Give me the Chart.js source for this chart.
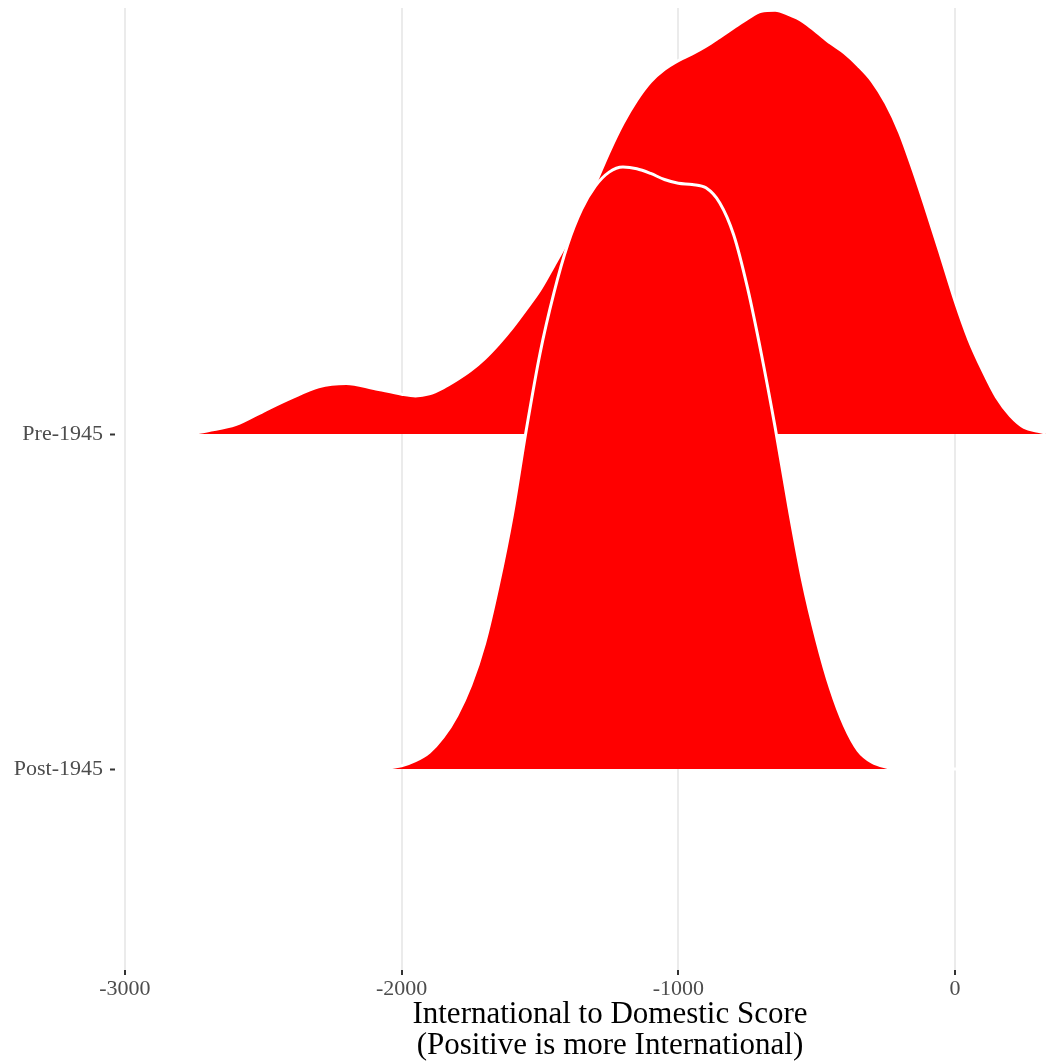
<!DOCTYPE html>
<html>
<head>
<meta charset="utf-8">
<script src="https://cdn.jsdelivr.net/npm/chart.js@4/dist/chart.umd.min.js"></script>
<style>
  html, body { margin: 0; padding: 0; background: #fff; }
  #wrap { width: 1046px; height: 1063px; position: relative; }
</style>
</head>
<body>
<div id="wrap"><canvas id="ridgeChart"></canvas></div>
<script>
// ===== Data =====
const groups = ['Post-1945', 'Pre-1945'];   // bottom ridge first
const baselines = [1, 2];                   // ridge positions on the y scale
const xTicks = [-3000, -2000, -1000, 0];
const xTitle = ['International to Domestic Score', '(Positive is more International)'];

const scoreX = [-2765, -2700, -2600, -2500, -2400, -2300, -2200, -2100,
  -2000, -1950, -1900, -1850, -1800, -1750, -1700, -1650, -1600, -1550,
  -1500, -1450, -1400, -1350, -1300, -1250, -1200, -1150, -1100, -1050,
  -1000, -950, -900, -850, -800, -750, -700, -650, -600, -550,
  -500, -450, -400, -350, -300, -250, -200, -150, -100, -50,
  0, 50, 100, 150, 200, 250, 300, 329];

// ridge heights (in units of the gap between ridges)
const preHeight = [0, 0.01, 0.028, 0.068, 0.107, 0.141, 0.151, 0.136,
  0.119, 0.114, 0.12, 0.138, 0.162, 0.19, 0.225, 0.268, 0.317, 0.372,
  0.43, 0.502, 0.576, 0.657, 0.747, 0.842, 0.927, 0.997, 1.052, 1.089,
  1.115, 1.135, 1.158, 1.185, 1.213, 1.24, 1.262, 1.265, 1.252, 1.232,
  1.2, 1.167, 1.138, 1.1, 1.054, 0.988, 0.9, 0.785, 0.66, 0.53,
  0.398, 0.282, 0.19, 0.11, 0.055, 0.02, 0.008, 0.003];

const postHeight = [0, 0, 0, 0, 0, 0, 0, 0,
  0.01, 0.025, 0.05, 0.095, 0.16, 0.25, 0.375, 0.55, 0.757, 1.01,
  1.24, 1.42, 1.565, 1.67, 1.74, 1.782, 1.797, 1.792, 1.778, 1.76,
  1.749, 1.745, 1.735, 1.69, 1.595, 1.437, 1.24, 1.02, 0.78, 0.56,
  0.385, 0.24, 0.13, 0.055, 0.02, 0.006, 0, 0, 0, 0,
  0, 0, 0, 0, 0, 0, 0, 0];

const fontFamily = '"Liberation Serif", "DejaVu Serif", serif';

function ridge(heights, base) {
  return scoreX.map((x, i) => ({ x: x, y: base + heights[i] }));
}

function ridgeDataset(label, heights, base, order) {
  return {
    label: label,
    data: ridge(heights, base),
    backgroundColor: '#ff0000',
    borderColor: '#ffffff',
    borderWidth: 3,
    pointRadius: 0,
    cubicInterpolationMode: 'monotone',
    fill: { value: base },
    order: order
  };
}

// x axis title, two centred lines under the tick labels
const axisTitle = {
  id: 'axisTitle',
  afterDraw(chart) {
    const c = chart.ctx;
    c.save();
    c.font = '31px ' + fontFamily;
    c.fillStyle = '#000000';
    c.textAlign = 'center';
    c.textBaseline = 'alphabetic';
    xTitle.forEach((line, i) => c.fillText(line, 610, 1023 + i * 31));
    c.restore();
  }
};

// ===== Ridgeline Chart =====
const ctx = document.getElementById('ridgeChart').getContext('2d');
const ridgeChart = new Chart(ctx, {
  type: 'line',
  data: {
    datasets: [
      ridgeDataset(groups[0], postHeight, baselines[0], 0),  // drawn on top
      ridgeDataset(groups[1], preHeight, baselines[1], 1)
    ]
  },
  plugins: [axisTitle],
  options: {
    responsive: true,
    maintainAspectRatio: false,
    animation: false,
    layout: { padding: { top: 8, left: 0, right: 0, bottom: 0 } },
    plugins: {
      legend: { display: false },
      tooltip: { enabled: false },
      filler: { propagate: false }
    },
    scales: {
      x: {
        type: 'linear',
        min: -3036,
        max: 329,
        afterBuildTicks: (scale) => { scale.ticks = xTicks.map(v => ({ value: v })); },
        afterFit: (scale) => { scale.height = 93; scale.paddingLeft = 0; scale.paddingRight = 0; },
        border: { display: false },
        grid: { color: '#ebebeb', lineWidth: 2, tickColor: '#333333', tickWidth: 2, tickLength: 5 },
        ticks: {
          color: '#4d4d4d',
          padding: 1,
          font: { family: fontFamily, size: 22 },
          callback: (v) => String(v)
        }
      },
      y: {
        type: 'linear',
        min: 0.4,
        max: 3.272,
        afterBuildTicks: (scale) => { scale.ticks = baselines.map(v => ({ value: v })); },
        afterFit: (scale) => { scale.width = 115; scale.paddingTop = 0; scale.paddingBottom = 0; },
        border: { display: false },
        grid: { drawOnChartArea: false, tickColor: '#333333', tickWidth: 2, tickLength: 5 },
        ticks: {
          color: '#4d4d4d',
          padding: 7,
          font: { family: fontFamily, size: 22 },
          callback: (v) => groups[baselines.indexOf(v)]
        }
      }
    }
  }
});
</script>
</body>
</html>
